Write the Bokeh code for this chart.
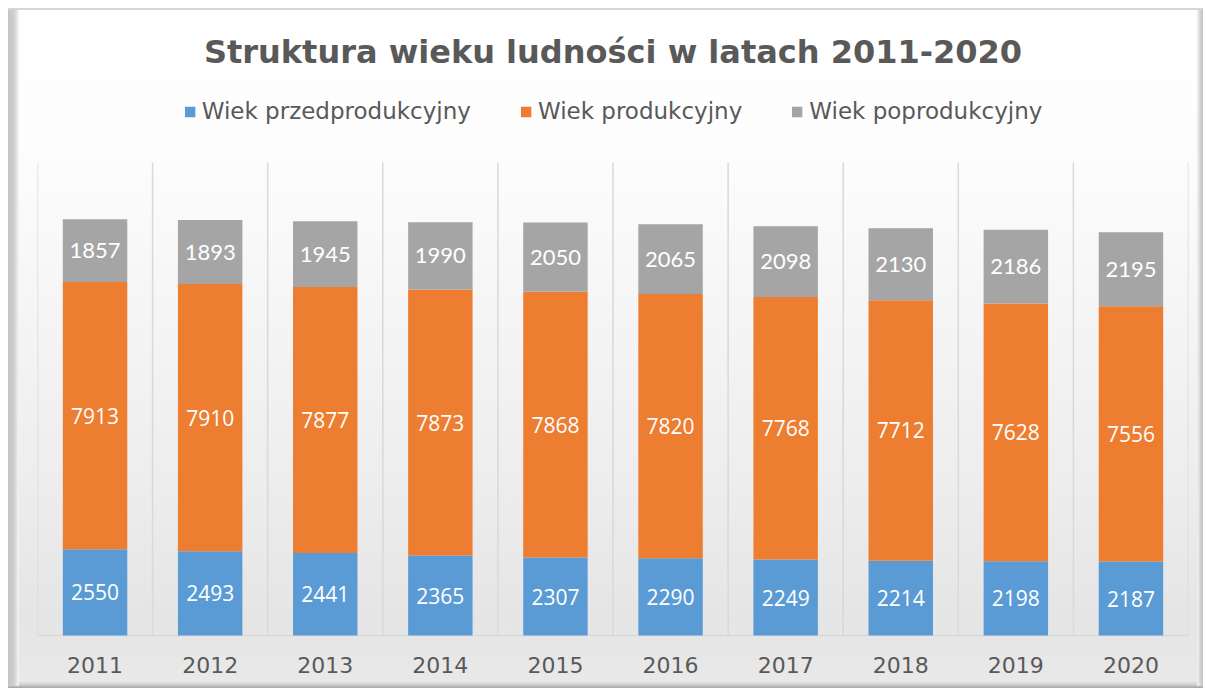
from bokeh.plotting import figure
from bokeh.models import ColumnDataSource, Range1d, FixedTicker, Legend, LegendItem, Label
from bokeh.core.properties import value
from bokeh.embed import file_html
from bokeh.resources import INLINE

years = ["2011", "2012", "2013", "2014", "2015", "2016", "2017", "2018", "2019", "2020"]
przed = [2550, 2493, 2441, 2365, 2307, 2290, 2249, 2214, 2198, 2187]
prod = [7913, 7910, 7877, 7873, 7868, 7820, 7768, 7712, 7628, 7556]
popr = [1857, 1893, 1945, 1990, 2050, 2065, 2098, 2130, 2186, 2195]
series_names = ["Wiek przedprodukcyjny", "Wiek produkcyjny", "Wiek poprodukcyjny"]
colors = ["#5B9BD5", "#ED7D31", "#A5A5A5"]
title_text = "Struktura wieku ludności w latach 2011-2020"
y_max = 14000

n = len(years)
xpos = [i + 0.5 for i in range(n)]
src = ColumnDataSource(dict(
    x=xpos, years=years, przed=przed, prod=prod, popr=popr,
    y1=[a / 2 for a in przed],
    y2=[a + b / 2 for a, b in zip(przed, prod)],
    y3=[a + b + c / 2 for a, b, c in zip(przed, prod, popr)],
    t1=[str(v) for v in przed], t2=[str(v) for v in prod], t3=[str(v) for v in popr],
))

W, H = 1207, 690
left_b, right_b = 37, 19
plot_top, plot_bottom = 162, 635          # pixel rows of the plotting area
ppu = (plot_bottom - plot_top) / y_max     # pixels per data unit
y_lo = -(H - plot_bottom) / ppu
y_hi = y_max + plot_top / ppu

p = figure(width=W, height=H, x_range=Range1d(0, n), y_range=Range1d(y_lo, y_hi),
           output_backend="svg", toolbar_location=None,
           min_border_left=left_b, min_border_right=right_b, min_border_bottom=0, min_border_top=0)
p.border_fill_color = None
p.background_fill_color = None
p.outline_line_color = None
p.styles = {
    "background": ", ".join([
        "linear-gradient(#d6d6d6, #d6d6d6) 8px 8px / 1195px 2px no-repeat",
        "linear-gradient(to right, #c4c4c4, #cfcfcf 55%, #e9e9e9 85%, #f6f6f6) 8px 10px / 11px 676px no-repeat",
        "linear-gradient(to right, #f2f2f2, #d2d2d2 60%, #c2c2c2) 1197px 10px / 6px 676px no-repeat",
        "linear-gradient(to bottom, #ededed, #d6d6d6 50%, #a6a6a6) 8px 680px / 1195px 8px no-repeat",
        "linear-gradient(to bottom, #ffffff 0%, #fdfdfd 20%, #ededed 70%, #e5e5e5 90%, #e9e9e9 100%) 8px 10px / 1195px 676px no-repeat",
        "#ffffff",
    ]),
}

# plot-area frame and vertical separators between categories
p.segment(x0=list(range(n + 1)), y0=[0] * (n + 1), x1=list(range(n + 1)), y1=[y_max] * (n + 1),
          line_color="#d9d9d9", line_width=1.5)
p.segment(x0=[0], y0=[0], x1=[n], y1=[0], line_color="#d9d9d9", line_width=1.5)

rs = p.vbar_stack(["przed", "prod", "popr"], x="x", width=0.56, source=src,
                  color=colors, line_color=None)

for ycol, tcol, font, size in [("y1", "t1", "Open Sans", "21px"), ("y2", "t2", "Open Sans", "21px"),
                               ("y3", "t3", "Lato", "22px")]:
    p.text(x="x", y=ycol, text=tcol, source=src, text_color="white", text_align="center",
           text_baseline="middle", text_font=value(font), text_font_size=size)

title = Label(x=(W - left_b - right_b) / 2, y=H - 51, x_units="screen", y_units="screen", text=title_text,
              text_align="center", text_baseline="alphabetic", text_font="DejaVu Sans",
              text_font_style="bold", text_font_size="32px", text_color="#595959")
p.add_layout(title)

legend = Legend(items=[LegendItem(label=nm, renderers=[r]) for nm, r in zip(series_names, rs)],
                orientation="horizontal", location="top_center",
                label_text_font="DejaVu Sans", label_text_font_size="23px", label_text_color="#595959",
                glyph_width=13, glyph_height=13, label_standoff=6, spacing=48,
                border_line_color=None, background_fill_alpha=0, margin=98, padding=0)
p.add_layout(legend)

p.yaxis.visible = False
p.grid.visible = False

ax = p.xaxis[0]
ax.fixed_location = 0
ax.ticker = FixedTicker(ticks=xpos)
ax.major_label_overrides = {x: y for x, y in zip(xpos, years)}
ax.axis_line_color = None
ax.major_tick_line_color = None
ax.minor_tick_line_color = None
ax.major_tick_out = 0
ax.major_tick_in = 0
ax.major_label_standoff = 21
ax.major_label_text_font = "DejaVu Sans"
ax.major_label_text_font_size = "22px"
ax.major_label_text_color = "#595959"

open("out.html", "w").write(file_html(p, INLINE))
